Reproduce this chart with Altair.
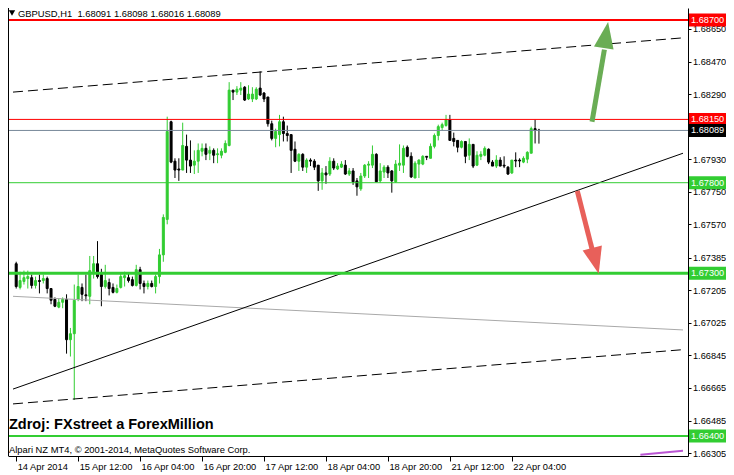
import json
import altair as alt
import pandas as pd

# ---------------- data (GBPUSD, H1) ----------------
opens = [
1.67352, 1.67221, 1.67254, 1.67270, 1.67275, 1.67232, 1.67259, 1.67259, 1.67270, 1.67215,
1.67155, 1.67112, 1.67139, 1.67155, 1.66932, 1.66965, 1.67155, 1.67221, 1.67180, 1.67172,
1.67308, 1.67352, 1.67292, 1.67226, 1.67248, 1.67221, 1.67194, 1.67221, 1.67275, 1.67275,
1.67264, 1.67232, 1.67319, 1.67243, 1.67226, 1.67243, 1.67226, 1.67281, 1.67401, 1.67597,
1.68137, 1.67919, 1.67876, 1.67870, 1.68001, 1.67925, 1.67897, 1.67919, 1.67974, 1.67990,
1.67963, 1.67979, 1.67955, 1.67952, 1.67968, 1.68006, 1.68312, 1.68301, 1.68312, 1.68328,
1.68263, 1.68263, 1.68263, 1.68323, 1.68296, 1.68274, 1.68126, 1.68045, 1.68066, 1.68137,
1.68072, 1.68066, 1.67985, 1.67919, 1.67957, 1.67886, 1.67925, 1.67919, 1.67897, 1.67810,
1.67854, 1.67848, 1.67919, 1.67876, 1.67886, 1.67897, 1.67848, 1.67865, 1.67810, 1.67766,
1.67837, 1.67897, 1.67897, 1.67957, 1.67810, 1.67859, 1.67886, 1.67865, 1.67805, 1.67897,
1.67897, 1.67996, 1.67946, 1.67826, 1.67903, 1.67903, 1.67946, 1.67935, 1.68001, 1.68061,
1.68105, 1.68116, 1.68148, 1.68045, 1.68034, 1.67996, 1.68028, 1.67952, 1.68012, 1.67897,
1.67946, 1.67952, 1.67985, 1.67914, 1.67892, 1.67925, 1.67897, 1.67886, 1.67854, 1.67925,
1.67925, 1.67914, 1.67930, 1.67963, 1.68099, 1.68091]

highs = [
1.67363, 1.67308, 1.67314, 1.67314, 1.67292, 1.67281, 1.67292, 1.67292, 1.67281, 1.67215,
1.67166, 1.67161, 1.67166, 1.67183, 1.66997, 1.67237, 1.67292, 1.67243, 1.67292, 1.67395,
1.67395, 1.67477, 1.67324, 1.67346, 1.67270, 1.67243, 1.67237, 1.67297, 1.67308, 1.67297,
1.67281, 1.67346, 1.67335, 1.67259, 1.67259, 1.67259, 1.67292, 1.67434, 1.67625, 1.68165,
1.68143, 1.67935, 1.67935, 1.68132, 1.68066, 1.68034, 1.67979, 1.68017, 1.68017, 1.68017,
1.68001, 1.67990, 1.67990, 1.67990, 1.68034, 1.68356, 1.68312, 1.68334, 1.68356, 1.68334,
1.68339, 1.68328, 1.68328, 1.68416, 1.68301, 1.68274, 1.68143, 1.68099, 1.68175, 1.68165,
1.68116, 1.68066, 1.68028, 1.67963, 1.67963, 1.67935, 1.67935, 1.67930, 1.67897, 1.67881,
1.67892, 1.67941, 1.67935, 1.67908, 1.67919, 1.67925, 1.67881, 1.67881, 1.67826, 1.67854,
1.67903, 1.67919, 1.68006, 1.67963, 1.67908, 1.67897, 1.67897, 1.67870, 1.67925, 1.68012,
1.68006, 1.68006, 1.67968, 1.67919, 1.67930, 1.67952, 1.67946, 1.68017, 1.68072, 1.68121,
1.68132, 1.68175, 1.68175, 1.68077, 1.68034, 1.68034, 1.68028, 1.68045, 1.68012, 1.67974,
1.67974, 1.68001, 1.67990, 1.67925, 1.67952, 1.67941, 1.67946, 1.67892, 1.67925, 1.67968,
1.67935, 1.67946, 1.67974, 1.68110, 1.68148, 1.68098]

lows = [
1.67215, 1.67210, 1.67237, 1.67215, 1.67215, 1.67215, 1.67188, 1.67243, 1.67188, 1.67128,
1.67112, 1.67106, 1.67106, 1.66855, 1.66839, 1.66599, 1.67145, 1.67145, 1.67145, 1.67128,
1.67270, 1.67270, 1.67117, 1.67215, 1.67177, 1.67188, 1.67188, 1.67215, 1.67226, 1.67248,
1.67226, 1.67226, 1.67210, 1.67188, 1.67210, 1.67221, 1.67188, 1.67243, 1.67363, 1.67570,
1.67908, 1.67826, 1.67810, 1.67870, 1.67854, 1.67854, 1.67848, 1.67854, 1.67946, 1.67925,
1.67925, 1.67908, 1.67908, 1.67935, 1.67963, 1.68001, 1.68257, 1.68285, 1.68285, 1.68252,
1.68257, 1.68246, 1.68257, 1.68279, 1.68246, 1.68110, 1.68034, 1.67996, 1.68001, 1.68028,
1.68028, 1.67854, 1.67914, 1.67865, 1.67865, 1.67854, 1.67892, 1.67870, 1.67755, 1.67761,
1.67794, 1.67837, 1.67870, 1.67870, 1.67881, 1.67843, 1.67837, 1.67788, 1.67728, 1.67755,
1.67826, 1.67826, 1.67881, 1.67805, 1.67799, 1.67826, 1.67826, 1.67745, 1.67799, 1.67865,
1.67854, 1.67941, 1.67826, 1.67826, 1.67826, 1.67897, 1.67925, 1.67935, 1.67990, 1.68034,
1.68088, 1.68110, 1.68034, 1.68001, 1.67968, 1.67990, 1.67908, 1.67925, 1.67881, 1.67892,
1.67925, 1.67946, 1.67903, 1.67892, 1.67881, 1.67892, 1.67881, 1.67843, 1.67848, 1.67886,
1.67886, 1.67908, 1.67908, 1.67963, 1.68017, 1.68016]

closes = [
1.67226, 1.67259, 1.67275, 1.67281, 1.67232, 1.67259, 1.67254, 1.67270, 1.67215, 1.67150,
1.67117, 1.67139, 1.67155, 1.66932, 1.66965, 1.67150, 1.67226, 1.67183, 1.67175, 1.67314,
1.67352, 1.67281, 1.67226, 1.67259, 1.67215, 1.67194, 1.67215, 1.67281, 1.67286, 1.67259,
1.67232, 1.67319, 1.67243, 1.67226, 1.67243, 1.67226, 1.67281, 1.67401, 1.67608, 1.68083,
1.67914, 1.67870, 1.67870, 1.68006, 1.67925, 1.67892, 1.67919, 1.67979, 1.67990, 1.67957,
1.67979, 1.67952, 1.67960, 1.67974, 1.68017, 1.68312, 1.68301, 1.68317, 1.68323, 1.68257,
1.68290, 1.68290, 1.68317, 1.68285, 1.68263, 1.68126, 1.68045, 1.68083, 1.68137, 1.68072,
1.68061, 1.67979, 1.67919, 1.67957, 1.67886, 1.67925, 1.67919, 1.67886, 1.67810, 1.67854,
1.67843, 1.67919, 1.67881, 1.67892, 1.67903, 1.67848, 1.67865, 1.67805, 1.67777, 1.67837,
1.67897, 1.67903, 1.67957, 1.67805, 1.67865, 1.67886, 1.67854, 1.67810, 1.67903, 1.67908,
1.67990, 1.67946, 1.67832, 1.67908, 1.67925, 1.67946, 1.67941, 1.68001, 1.68061, 1.68110,
1.68121, 1.68148, 1.68034, 1.68028, 1.67996, 1.68028, 1.67946, 1.68012, 1.67892, 1.67952,
1.67957, 1.67990, 1.67914, 1.67892, 1.67925, 1.67892, 1.67892, 1.67848, 1.67925, 1.67920,
1.67920, 1.67935, 1.67968, 1.68099, 1.68091, 1.68089]

xlabels = ["14 Apr 2014", "15 Apr 12:00", "16 Apr 04:00", "16 Apr 20:00", "17 Apr 12:00",
           "18 Apr 04:00", "18 Apr 20:00", "21 Apr 12:00", "22 Apr 04:00"]
xlabel_bars = [0, 16, 32, 48, 64, 80, 96, 112, 128]
ytick_values = [1.68650, 1.68470, 1.68290, 1.67930, 1.67750, 1.67570, 1.67385,
                1.67205, 1.67025, 1.66845, 1.66665, 1.66485, 1.66305]

level_prices = [1.68700, 1.68150, 1.68089, 1.67800, 1.67300, 1.66400]
level_line_colors = ["#ff0000", "#ff0000", "#778899", "#32cd32", "#32cd32", "#32cd32"]
level_line_widths = [2, 1, 1, 1, 3, 2]
level_box_colors = ["#ff0000", "#ff0000", "#000000", "#32cd32", "#32cd32", "#32cd32"]

# trend lines: endpoints in (bar index, price)
trend_names = ["upper", "lower", "support", "grey"]
trend_bar0 = [-0.825, -0.825, -0.825, -0.825]
trend_bar1 = [172.2, 172.2, 172.2, 172.2]
trend_p0 = [1.68301, 1.66577, 1.66659, 1.67172]
trend_p1 = [1.68601, 1.66877, 1.67963, 1.66986]

# purple indicator line (bottom right)
purple_bars = [161.2, 172.2]
purple_prices = [1.66296, 1.66318]

# arrows
arrow_colors = ["#6aad55", "#e8605a"]
arrow_bar0 = [148.7, 144.9]
arrow_p0 = [1.68137, 1.67755]
arrow_bar1 = [151.9, 148.9]
arrow_p1 = [1.68536, 1.67417]
head_bar = [152.3, 149.6]
head_p = [1.68617, 1.67368]
head_angle = [9.4, 165.8]

title_text = "GBPUSD,H1\u00a0\u00a01.68091 1.68098 1.68016 1.68089"
source_text = "Zdroj: FXstreet a ForexMillion"
copyright_text = "Alpari NZ MT4, \u00a9 2001-2014, MetaQuotes Software Corp."

# ---------------- build ----------------
FONT = "Liberation Sans"
W, H = 680, 448

candles = pd.DataFrame({"bar": list(range(len(opens))), "open": opens, "high": highs,
                        "low": lows, "close": closes})
candles["dir"] = ["up" if c >= o else "down" for o, c in zip(opens, closes)]

levels = pd.DataFrame({"price": level_prices, "lc": level_line_colors,
                       "lw": level_line_widths, "bg": level_box_colors})

trend_rows = []
for nm, b0, b1, p0, p1 in zip(trend_names, trend_bar0, trend_bar1, trend_p0, trend_p1):
    trend_rows.append({"name": nm, "bar": b0, "price": p0})
    trend_rows.append({"name": nm, "bar": b1, "price": p1})
trends = pd.DataFrame(trend_rows)

purple = pd.DataFrame({"bar": purple_bars, "price": purple_prices})
arrows = pd.DataFrame({"c": arrow_colors, "b0": arrow_bar0, "p0": arrow_p0,
                       "b1": arrow_bar1, "p1": arrow_p1, "hb": head_bar,
                       "hp": head_p, "ang": head_angle})

xscale = alt.Scale(domain=[-0.825, 172.2], nice=False, zero=False)
yscale = alt.Scale(domain=[1.66289, 1.68766], nice=False, zero=False)

label_expr = f"{json.dumps(xlabels)}[indexof({json.dumps(xlabel_bars)}, datum.value)]"
xaxis = alt.Axis(values=xlabel_bars, labelExpr=label_expr, orient="bottom", title=None,
                 grid=False, domainColor="black", tickColor="black", tickSize=5,
                 labelAlign="left", labelOffset=1, labelPadding=1, labelFont=FONT,
                 labelFontSize=9.3, labelColor="black", labelOverlap=False, labelFlush=False)
yaxis = alt.Axis(values=ytick_values, orient="right", format=".5f", title=None, grid=False,
                 domainColor="black", tickColor="black", tickSize=3, labelPadding=1.5,
                 labelFont=FONT, labelFontSize=9.2, labelColor="black",
                 labelOverlap=False, labelFlush=False)


def X(f):
    return alt.X(f, type="quantitative", scale=xscale, axis=xaxis)


def Y(f):
    return alt.Y(f, type="quantitative", scale=yscale, axis=yaxis)


colscale = alt.Scale(domain=["up", "down"], range=["#32cd32", "#000000"])

wicks = alt.Chart(candles).mark_rule(strokeWidth=1).encode(
    x=X("bar"), y=Y("low"), y2="high",
    color=alt.Color("dir:N", scale=colscale, legend=None))
bodies = alt.Chart(candles).mark_bar(size=2, strokeWidth=1).encode(
    x=X("bar"), y=Y("open"), y2="close",
    fill=alt.Fill("dir:N", scale=colscale, legend=None),
    stroke=alt.Stroke("dir:N", scale=colscale, legend=None))

level_rules = alt.Chart(levels).mark_rule().encode(
    y=Y("price"), color=alt.Color("lc:N", scale=None),
    strokeWidth=alt.StrokeWidth("lw:Q", scale=None))

dashed = alt.Chart(trends).transform_filter(
    alt.FieldOneOfPredicate(field="name", oneOf=["upper", "lower"])
).mark_line(color="black", strokeWidth=1, strokeDash=[10, 5], clip=True).encode(
    x=X("bar"), y=Y("price"), detail="name:N")
support = alt.Chart(trends).transform_filter(
    alt.FieldEqualPredicate(field="name", equal="support")
).mark_line(color="black", strokeWidth=1, clip=True).encode(x=X("bar"), y=Y("price"))
grey = alt.Chart(trends).transform_filter(
    alt.FieldEqualPredicate(field="name", equal="grey")
).mark_line(color="#a9a9a9", strokeWidth=1, clip=True).encode(x=X("bar"), y=Y("price"))
purple_line = alt.Chart(purple).mark_line(color="#ba55d3", strokeWidth=2, clip=True).encode(
    x=X("bar"), y=Y("price"))

shafts = alt.Chart(arrows).mark_rule(strokeWidth=5, strokeCap="butt").encode(
    x=X("b0"), x2="b1", y=Y("p0"), y2="p1", color=alt.Color("c:N", scale=None))
heads = alt.Chart(arrows).mark_point(
    shape="M0,-1L0.75,1L-0.75,1Z", filled=True, size=700, opacity=1, strokeWidth=0
).encode(x=X("hb"), y=Y("hp"), angle=alt.Angle("ang:Q", scale=None),
         color=alt.Color("c:N", scale=None))

boxes = alt.Chart(levels).mark_point(
    shape="M-1,-0.351H1V0.351H-1Z", filled=True, size=1369, opacity=1, strokeWidth=0
).encode(x=alt.value(699.5), y=Y("price"), color=alt.Color("bg:N", scale=None))
box_text = alt.Chart(levels).mark_text(
    align="left", baseline="middle", font=FONT, fontSize=9.2, color="white"
).encode(x=alt.value(683), y=Y("price"), text=alt.Text("price:Q", format=".5f"))

one = pd.DataFrame({"k": [0]})
left_border = alt.Chart(one).mark_rule(color="black", strokeWidth=1).encode(
    x=alt.value(0.5), y=alt.value(0), y2=alt.value(H))
tri = alt.Chart(one).mark_point(shape="triangle-down", filled=True, size=40, color="black",
                                opacity=1).encode(x=alt.value(4), y=alt.value(5))
title = alt.Chart(one).mark_text(
    text=title_text, align="left", baseline="alphabetic", font=FONT, fontSize=9.4,
    color="black").encode(x=alt.value(10), y=alt.value(9))
source = alt.Chart(one).mark_text(
    text=source_text, align="left", baseline="alphabetic", font=FONT, fontSize=14.5,
    fontWeight="bold", color="black").encode(x=alt.value(1), y=alt.value(421))
copyr = alt.Chart(one).mark_text(
    text=copyright_text, align="left", baseline="alphabetic", font=FONT, fontSize=9.4,
    color="black").encode(x=alt.value(1), y=alt.value(445))

chart = alt.layer(
    wicks, bodies, grey, support, dashed, purple_line, level_rules,
    shafts, heads, boxes, box_text, left_border, tri, title, source, copyr
).properties(
    width=W, height=H, background="white",
    padding={"left": 0, "top": 0, "right": 38, "bottom": 19},
    autosize=alt.AutoSizeParams(type="none"),
).configure_view(stroke=None)

chart.save("out.html", embed_options={"renderer": "svg", "actions": False})
